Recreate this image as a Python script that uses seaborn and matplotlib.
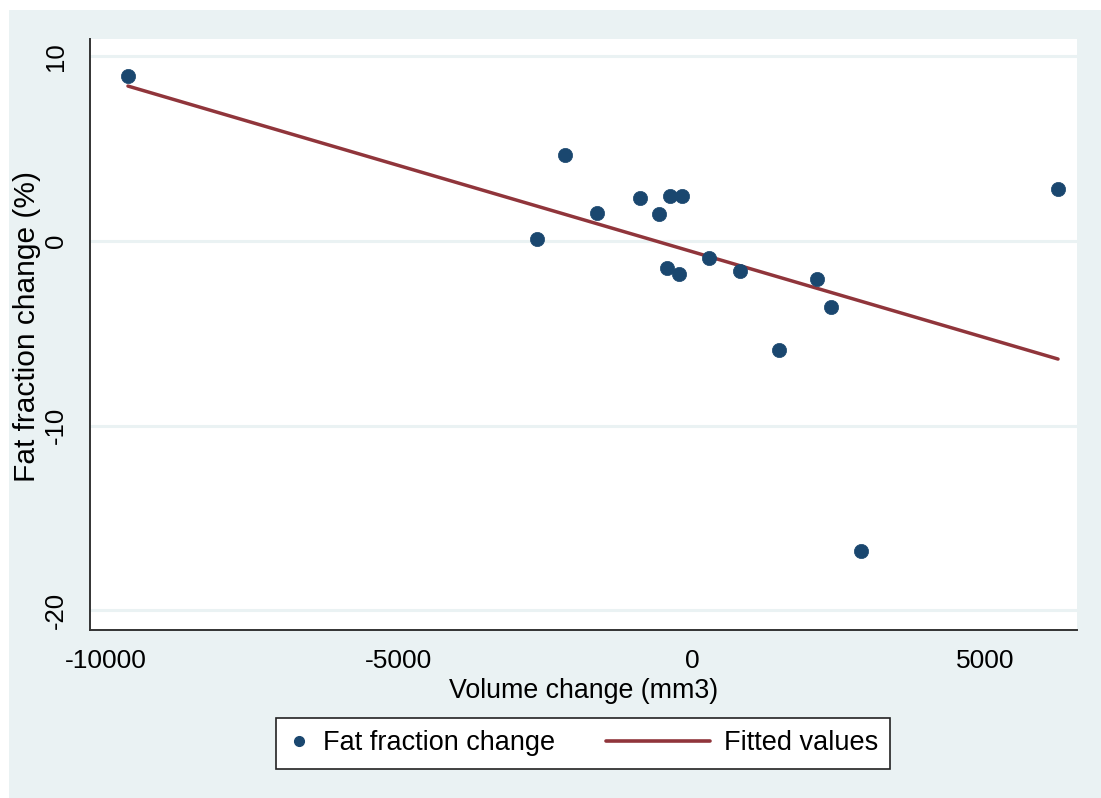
import numpy as np
import pandas as pd
import matplotlib
matplotlib.use("Agg")
import matplotlib.pyplot as plt
from matplotlib.patches import Rectangle
from matplotlib.lines import Line2D
from matplotlib.legend_handler import HandlerLine2D
import seaborn as sns

# Volume change (mm3) and fat fraction change (%) per subject
volume_change = [-9625, -2645, -2167, -1621, -887, -563, -375, -171,
                 -427, -222, 290, 819, 1485, 2133, 2372, 2884, 6246]
fat_fraction_change = [8.93, 0.10, 4.64, 1.52, 2.33, 1.44, 2.44, 2.44,
                       -1.44, -1.79, -0.93, -1.62, -5.90, -2.03, -3.59, -16.78, 2.82]

x_ticks = [-10000, -5000, 0, 5000]
y_ticks = [-20, -10, 0, 10]

NAVY = "#1A476F"
MAROON = "#90353B"
BG = "#EAF2F3"

df = pd.DataFrame({"vol": volume_change, "ff": fat_fraction_change})

sns.set_style("white")
plt.rcParams["font.family"] = ["Liberation Sans", "DejaVu Sans"]
plt.rcParams["text.color"] = "black"
plt.rcParams["axes.labelcolor"] = "black"
plt.rcParams["xtick.color"] = "black"
plt.rcParams["ytick.color"] = "black"

fig = plt.figure(figsize=(11.01, 7.98), dpi=100, facecolor="white")
fig.patches.append(Rectangle((9 / 1101, 0), 1 - 9 / 1101, 1 - 10 / 798,
                             transform=fig.transFigure, facecolor=BG,
                             edgecolor="none", zorder=-10))

ax = fig.add_axes([90 / 1101, 1 - 630 / 798, (1077 - 90) / 1101, (630 - 39) / 798])
ax.set_zorder(1)
ax.set_facecolor("white")

# horizontal grid lines
for yt in y_ticks:
    ax.axhline(yt, color=BG, lw=2.2, zorder=1)

# linear fit over the data range
sns.regplot(data=df, x="vol", y="ff", scatter=False, ci=None, ax=ax,
            line_kws=dict(color=MAROON, lw=2.5, zorder=2))
sns.scatterplot(data=df, x="vol", y="ff", ax=ax, color=NAVY, s=105,
                edgecolor=NAVY, linewidth=0.5, zorder=3, legend=False)

ax.set_xlim(-10273, 6570)
ax.set_ylim(-21.06, 10.94)
ax.set_xticks(x_ticks)
ax.set_xticklabels([str(v) for v in x_ticks])
ax.set_yticks(y_ticks)
ax.set_yticklabels([str(v) for v in y_ticks], rotation=90, va="center")

for s in ["top", "right"]:
    ax.spines[s].set_visible(False)
for s in ["left", "bottom"]:
    ax.spines[s].set_color("#333333")
    ax.spines[s].set_linewidth(1.4)

ax.tick_params(axis="x", length=7, width=1.2, color="#333333", labelsize=19, pad=7)
ax.tick_params(axis="y", length=7, width=1.2, color="#333333", labelsize=18.5, pad=9)
ax.set_xlabel("Volume change (mm3)", fontsize=19.3, labelpad=3)
ax.set_ylabel("Fat fraction change (%)", fontsize=21.5, va="center")
ax.yaxis.set_label_coords(-0.064, 0.514)


class LongLineHandler(HandlerLine2D):
    """Line handle that extends leftwards beyond the handle box."""
    def get_xdata(self, legend, xdescent, ydescent, width, height, fontsize):
        _, xm = super().get_xdata(legend, xdescent, ydescent, width, height, fontsize)
        ext = 3.05 * fontsize
        return np.array([-xdescent - ext, -xdescent + width]), xm


h_pts = Line2D([], [], ls="none", marker="o", color=NAVY, markersize=7)
h_fit = Line2D([], [], color=MAROON, lw=2.6)
leg = fig.legend([h_pts, h_fit], ["Fat fraction change", "Fitted values"],
                 loc="center", bbox_to_anchor=(583 / 1101, 1 - 743.5 / 798),
                 ncol=2, fontsize=19.5, frameon=True, fancybox=False,
                 framealpha=1.0,
                 handlelength=0.8, handletextpad=0.5, columnspacing=4.9,
                 borderpad=0.45, handler_map={h_fit: LongLineHandler()})
leg.get_frame().set_edgecolor("#222222")
leg.get_frame().set_linewidth(1.2)
leg.get_frame().set_facecolor("white")

fig.savefig("out.png", dpi=100, facecolor="white")
